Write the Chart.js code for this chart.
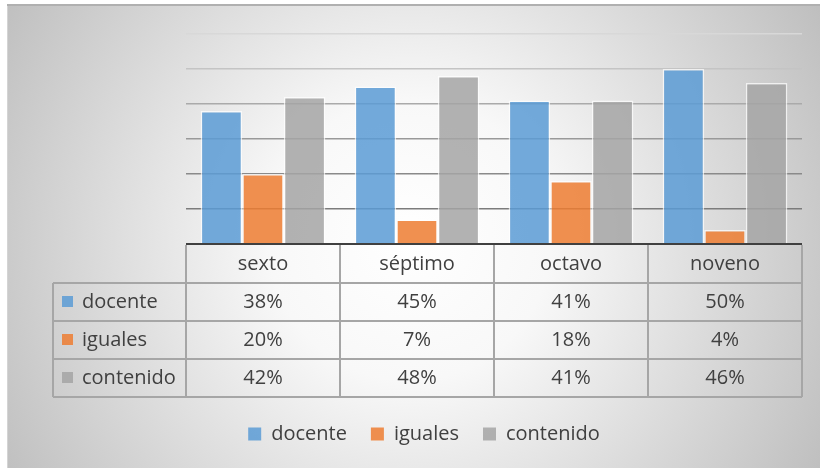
<!DOCTYPE html>
<html>
<head>
<meta charset="utf-8">
<script src="https://cdn.jsdelivr.net/npm/chart.js@4.4.1/dist/chart.umd.min.js"></script>
<style>
  html, body { margin: 0; padding: 0; background: #fff; }
  #wrap { width: 820px; height: 468px; }
</style>
</head>
<body>
<div id="wrap"><canvas id="grafico"></canvas></div>
<script>
const grados = ["sexto", "séptimo", "octavo", "noveno"];
const docente = [0.38, 0.45, 0.41, 0.50];
const iguales = [0.20, 0.07, 0.18, 0.04];
const contenido = [0.42, 0.48, 0.41, 0.46];
const marcasY = [0, 0.1, 0.2, 0.3, 0.4, 0.5, 0.6];

const colores = {
    docente: "rgba(91, 155, 213, 0.85)",
    iguales: "rgba(237, 125, 49, 0.85)",
    contenido: "rgba(165, 165, 165, 0.85)"
};
const colorRejilla = ["#404040", "#7c7c7c", "#8a8a8a", "#999999", "#aaaaaa", "#c4c4c4", "#d8d8d8"];
const fuente = "'Open Sans', 'Noto Sans', sans-serif";
const texto = "#404040";

function pct(v) { return Math.round(v * 100) + "%"; }

// fondo con degradado radial y marco
const fondo = {
    id: "fondo",
    beforeDraw(chart) {
        const ctx = chart.ctx;
        ctx.save();
        ctx.fillStyle = "#ffffff";
        ctx.fillRect(0, 0, chart.width, chart.height);
        const g = ctx.createRadialGradient(410, 240, 0, 410, 240, 470);
        g.addColorStop(0, "#ffffff");
        g.addColorStop(0.3, "#f8f8f8");
        g.addColorStop(1, "#bfbfbf");
        ctx.fillStyle = g;
        ctx.fillRect(7, 4, chart.width - 7, chart.height - 4);
        ctx.strokeStyle = "#d4d4d4";
        ctx.lineWidth = 1;
        ctx.beginPath();
        ctx.moveTo(7.5, chart.height);
        ctx.lineTo(7.5, 4.5);
        ctx.stroke();
        ctx.strokeStyle = "#b0b0b0";
        ctx.lineWidth = 2;
        ctx.beginPath();
        ctx.moveTo(7, 5);
        ctx.lineTo(chart.width, 5);
        ctx.stroke();
        ctx.restore();
    }
};

// tabla de datos bajo el eje X
const tabla = {
    id: "tabla",
    afterDraw(chart) {
        const ctx = chart.ctx;
        const a = chart.chartArea;
        const series = chart.data.datasets;
        const filaH = 38;
        const izq = 53;
        const colW = (a.right - a.left) / grados.length;
        const arriba = a.bottom + 1;
        const abajo = arriba + filaH * (series.length + 1);

        ctx.save();
        ctx.strokeStyle = "#a6a6a6";
        ctx.lineWidth = 2;
        ctx.beginPath();
        for (let i = 0; i <= grados.length; i++) {
            const xx = a.left + i * colW;
            ctx.moveTo(xx, arriba);
            ctx.lineTo(xx, abajo);
        }
        for (let r = 1; r <= series.length + 1; r++) {
            const yy = arriba + r * filaH;
            ctx.moveTo(izq, yy);
            ctx.lineTo(a.right, yy);
        }
        ctx.moveTo(izq, arriba + filaH);
        ctx.lineTo(izq, abajo);
        ctx.stroke();

        ctx.font = "20px " + fuente;
        ctx.fillStyle = texto;
        ctx.textBaseline = "middle";
        ctx.textAlign = "center";
        grados.forEach((g, i) => {
            ctx.fillText(g, a.left + (i + 0.5) * colW, arriba + filaH / 2);
        });
        series.forEach((ds, r) => {
            const yc = arriba + (r + 1.5) * filaH;
            ctx.fillStyle = ds.backgroundColor;
            ctx.fillRect(izq + 9, yc - 6, 11, 11);
            ctx.fillStyle = texto;
            ctx.textAlign = "left";
            ctx.fillText(ds.label, izq + 29, yc);
            ctx.textAlign = "center";
            ds.data.forEach((v, i) => {
                ctx.fillText(pct(v), a.left + (i + 0.5) * colW, yc);
            });
        });
        ctx.restore();
    }
};

function dibujar() {
    new Chart(document.getElementById("grafico"), {
        type: "bar",
        data: {
            labels: grados,
            datasets: [
                { label: "docente", data: docente, backgroundColor: colores.docente },
                { label: "iguales", data: iguales, backgroundColor: colores.iguales },
                { label: "contenido", data: contenido, backgroundColor: colores.contenido }
            ].map(d => Object.assign(d, {
                borderColor: "rgba(255, 255, 255, 0.7)",
                borderWidth: 1.5,
                categoryPercentage: 0.81,
                barPercentage: 1
            }))
        },
        options: {
            responsive: true,
            maintainAspectRatio: false,
            animation: false,
            devicePixelRatio: 1,
            layout: { padding: { left: 46, right: 18, top: 34, bottom: 14 } },
            scales: {
                x: {
                    grid: { display: false },
                    border: { display: false },
                    ticks: { display: false },
                    afterFit(scale) { scale.height = 156; }
                },
                y: {
                    min: 0,
                    max: 0.6,
                    afterBuildTicks(scale) { scale.ticks = marcasY.map(v => ({ value: v })); },
                    afterFit(scale) { scale.width = 140; },
                    ticks: { display: false },
                    border: { display: false },
                    grid: {
                        drawTicks: false,
                        color: c => colorRejilla[c.index],
                        lineWidth: c => (c.index === 0 ? 2 : 1.5)
                    }
                }
            },
            plugins: {
                tooltip: { enabled: false },
                legend: {
                    position: "bottom",
                    labels: {
                        boxWidth: 13,
                        boxHeight: 13,
                        padding: 24,
                        color: texto,
                        font: { family: fuente, size: 20 },
                        generateLabels(chart) {
                            return chart.data.datasets.map((ds, i) => ({
                                text: ds.label,
                                fillStyle: ds.backgroundColor,
                                strokeStyle: ds.backgroundColor,
                                lineWidth: 0,
                                fontColor: texto,
                                datasetIndex: i
                            }));
                        }
                    }
                }
            }
        },
        plugins: [fondo, tabla]
    });
}

document.fonts.load("20px 'Open Sans'").then(dibujar, dibujar);
</script>
</body>
</html>
